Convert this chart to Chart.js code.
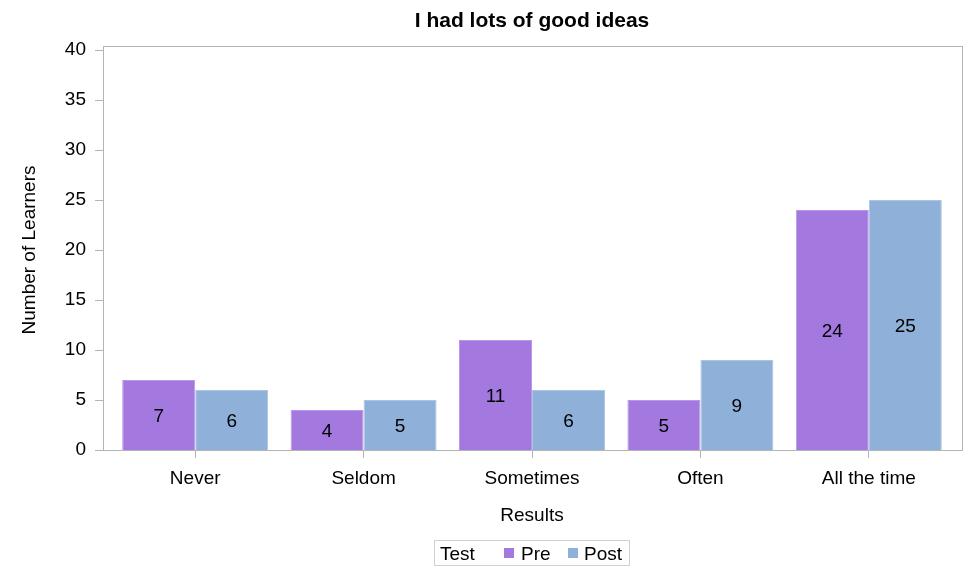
<!DOCTYPE html>
<html lang="en">
<head>
    <meta charset="UTF-8">
    <title>I had lots of good ideas</title>
    <script src="https://cdn.jsdelivr.net/npm/chart.js"></script>
    <style>
        body { margin: 0; background: #fff; font-family: "Liberation Sans", Arial, sans-serif; }
        .wrap { position: relative; width: 969px; height: 566px; }
        .legend {
            position: absolute; left: 434px; top: 540px; width: 196px; height: 26px;
            border: 1px solid #d0d0d0; box-sizing: border-box; font-size: 19px;
        }
        .legend span { position: absolute; top: 1px; line-height: 24px; white-space: nowrap; }
        .legend .sw { top: 7px; width: 10px; height: 10px; }
    </style>
</head>
<body>
<div class="wrap">
    <canvas id="barChart" width="969" height="566"></canvas>
    <div class="legend">
        <span style="left:5px">Test</span>
        <span class="sw" style="left:69px;background:#a379e0"></span><span style="left:86px">Pre</span>
        <span class="sw" style="left:133px;background:#8fb0d9"></span><span style="left:149px">Post</span>
    </div>
</div>

<script>
    // 数据
    let categories = ["Never", "Seldom", "Sometimes", "Often", "All the time"];
    let preValues = [7, 4, 11, 5, 24];
    let postValues = [6, 5, 6, 9, 25];
    let yTicks = [0, 5, 10, 15, 20, 25, 30, 35, 40];

    let axisColor = "#b4b4b4";
    let fontFamily = "'Liberation Sans', Arial, sans-serif";

    // frame + y tick marks (SAS style)
    let framePlugin = {
        id: "frame",
        afterDraw(chart) {
            let ctx = chart.ctx, a = chart.chartArea, y = chart.scales.y;
            let l = a.left - 8, r = a.right + 9, t = a.top - 4, b = a.bottom;
            ctx.save();
            ctx.strokeStyle = axisColor;
            ctx.lineWidth = 1;
            ctx.strokeRect(l + 0.5, t + 0.5, r - l, b - t);
            ctx.beginPath();
            yTicks.forEach(v => {
                let py = Math.round(y.getPixelForValue(v)) + 0.5;
                ctx.moveTo(l - 8, py);
                ctx.lineTo(l, py);
            });
            ctx.stroke();
            ctx.restore();
        }
    };

    // value labels in the middle of bars
    let valuePlugin = {
        id: "values",
        afterDatasetsDraw(chart) {
            let ctx = chart.ctx;
            ctx.save();
            ctx.font = "19px " + fontFamily;
            ctx.fillStyle = "#000";
            ctx.textAlign = "center";
            ctx.textBaseline = "middle";
            chart.data.datasets.forEach((ds, i) => {
                chart.getDatasetMeta(i).data.forEach((bar, j) => {
                    ctx.fillText(ds.data[j], bar.x, (bar.y + bar.base) / 2 + 1.5);
                });
            });
            ctx.restore();
        }
    };

    let ctx = document.getElementById("barChart").getContext("2d");
    let barChart = new Chart(ctx, {
        type: "bar",
        data: {
            labels: categories,
            datasets: [{
                label: "Pre",
                data: preValues,
                backgroundColor: "#a379e0",
                borderColor: "#b996ec",
                borderWidth: 1
            }, {
                label: "Post",
                data: postValues,
                backgroundColor: "#8fb0d9",
                borderColor: "#abc5e6",
                borderWidth: 1
            }]
        },
        options: {
            responsive: false,
            animation: false,
            layout: { padding: { left: 0, right: 16, top: 0, bottom: 26 } },
            datasets: { bar: { barPercentage: 1, categoryPercentage: 0.867 } },
            plugins: {
                legend: { display: false },
                tooltip: { enabled: false },
                title: {
                    display: true,
                    text: "I had lots of good ideas",
                    fullSize: false,
                    color: "#000",
                    font: { family: fontFamily, size: 21, weight: "bold" },
                    padding: { top: 8.4, bottom: 16.4 }
                }
            },
            scales: {
                x: {
                    afterFit(scale) { scale.height = 90; },
                    border: { display: false },
                    grid: { offset: false, drawOnChartArea: false, drawTicks: true, tickLength: 8, color: axisColor },
                    ticks: { color: "#000", font: { family: fontFamily, size: 19 }, padding: 9.6, maxRotation: 0 },
                    title: {
                        display: true, text: "Results", color: "#000",
                        font: { family: fontFamily, size: 19 },
                        padding: { top: 0, bottom: 12.6 }
                    }
                },
                y: {
                    min: 0,
                    max: 40,
                    afterFit(scale) { scale.width = 111; },
                    afterBuildTicks(scale) { scale.ticks = yTicks.map(v => ({ value: v })); },
                    border: { display: false },
                    grid: { display: false, drawTicks: false },
                    ticks: { color: "#000", font: { family: fontFamily, size: 19 }, padding: 25 },
                    title: {
                        display: true, text: "Number of Learners", color: "#000",
                        font: { family: fontFamily, size: 19 },
                        padding: { top: 18.6, bottom: 0 }
                    }
                }
            }
        },
        plugins: [framePlugin, valuePlugin]
    });
</script>
</body>
</html>
